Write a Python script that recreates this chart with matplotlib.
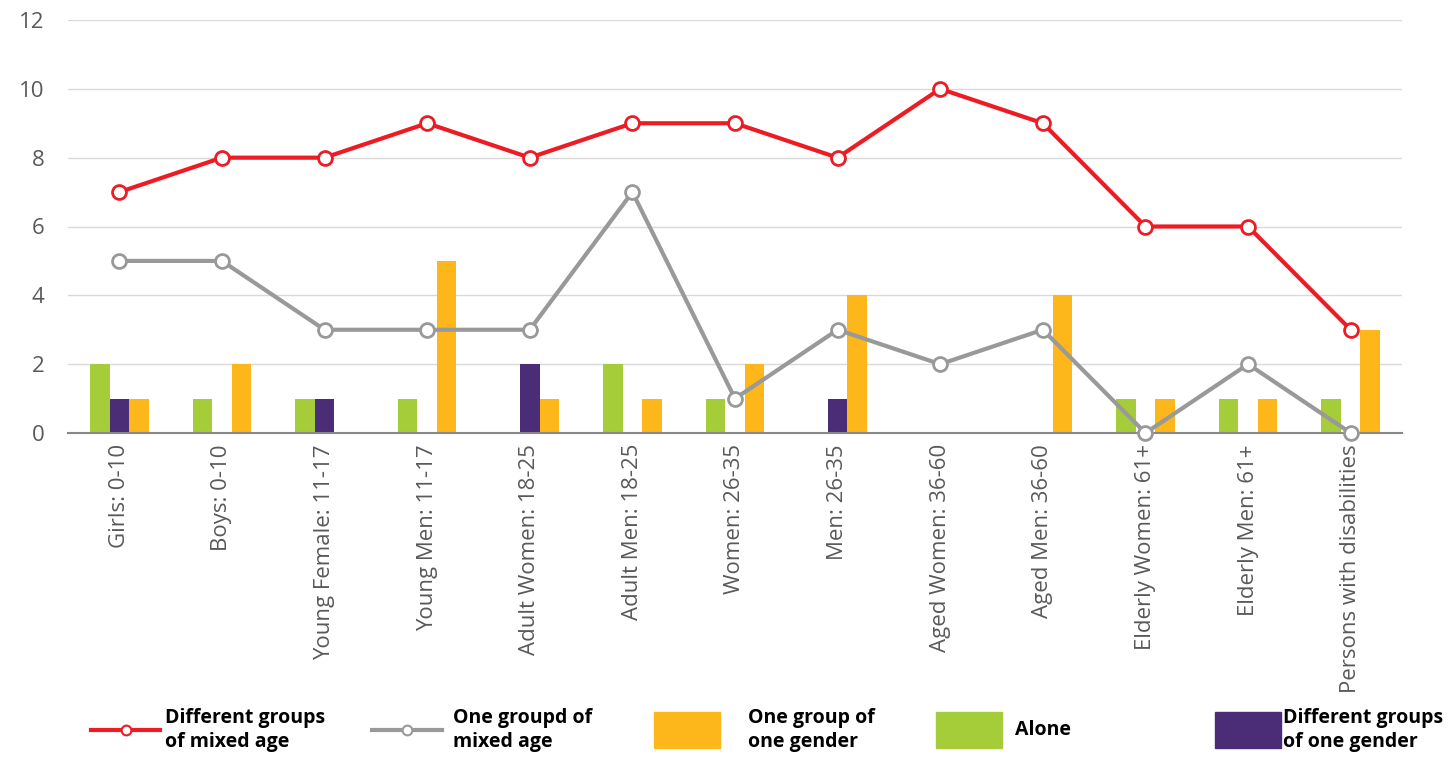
import matplotlib
matplotlib.use("Agg")
import matplotlib.pyplot as plt
import numpy as np
from matplotlib.lines import Line2D
from matplotlib.patches import Rectangle

categories = ["Girls: 0-10", "Boys: 0-10", "Young Female: 11-17", "Young Men: 11-17",
              "Adult Women: 18-25", "Adult Men: 18-25", "Women: 26-35", "Men: 26-35",
              "Aged Women: 36-60", "Aged Men: 36-60", "Elderly Women: 61+",
              "Elderly Men: 61+", "Persons with disabilities"]
mixed_age_groups = [7, 8, 8, 9, 8, 9, 9, 8, 10, 9, 6, 6, 3]
one_mixed_group = [5, 5, 3, 3, 3, 7, 1, 3, 2, 3, 0, 2, 0]
alone = [2, 1, 1, 1, 0, 2, 1, 0, 0, 0, 1, 1, 1]
diff_one_gender = [1, 0, 1, 0, 2, 0, 0, 1, 0, 0, 0, 0, 0]
one_gender_group = [1, 2, 0, 5, 1, 1, 2, 4, 0, 4, 1, 1, 3]
yticks = [0, 2, 4, 6, 8, 10, 12]

RED = "#ED1C24"
GRAY = "#999999"
ORANGE = "#FDB71A"
GREEN = "#A5CD39"
PURPLE = "#4B2C77"
TXT = "#595959"

plt.rcParams['font.family'] = ['Open Sans', 'DejaVu Sans']

fig = plt.figure(figsize=(14.55, 7.59), dpi=100)
ax = fig.add_axes([68/1455, 1 - 433/759, (1402-68)/1455, (433-20)/759])

x = np.arange(len(categories))
w = 0.19
ax.bar(x - w, alone, w, color=GREEN, zorder=2)
ax.bar(x, diff_one_gender, w, color=PURPLE, zorder=2)
ax.bar(x + w, one_gender_group, w, color=ORANGE, zorder=2)

ax.plot(x, one_mixed_group, color=GRAY, lw=3, marker='o', ms=10,
        mfc='white', mec=GRAY, mew=2, zorder=3, clip_on=False)
ax.plot(x, mixed_age_groups, color=RED, lw=3, marker='o', ms=10,
        mfc='white', mec=RED, mew=2, zorder=4, clip_on=False)

ax.set_xlim(-0.5, len(categories) - 0.5)
ax.set_ylim(0, 12)
ax.set_yticks(yticks)
ax.set_yticklabels([str(v) for v in yticks], fontsize=16, color=TXT)
ax.set_xticks(x)
ax.set_xticklabels(categories, rotation=90, fontsize=16, color=TXT, va='top')
ax.tick_params(length=0)
ax.tick_params(axis='x', pad=8)
ax.tick_params(axis='y', pad=17)
ax.grid(axis='y', color='#d9d9d9', lw=1, zorder=0)
ax.set_axisbelow(True)
for s in ['top', 'right', 'left']:
    ax.spines[s].set_visible(False)
ax.spines['bottom'].set_color('#888888')
ax.spines['bottom'].set_linewidth(1.5)
ax.spines['bottom'].set_zorder(2.5)

# legend (manual, figure coordinates)
H, W = 759, 1455
def fx(px): return px / W
def fy(py): return 1 - py / H
ly = 730
fs = 14
for (x0, x1, col, tx, label) in [(91, 160, RED, 165, "Different groups\nof mixed age"),
                                  (372, 442, GRAY, 453, "One groupd of\nmixed age")]:
    fig.add_artist(Line2D([fx(x0), fx(x1)], [fy(ly), fy(ly)], color=col, lw=3,
                          transform=fig.transFigure))
    fig.add_artist(Line2D([fx((x0 + x1) / 2)], [fy(ly)], marker='o', ms=7, mfc='white',
                          mec=col, mew=1.5, transform=fig.transFigure))
    fig.text(fx(tx), fy(ly), label, fontsize=fs, fontweight='bold', color='black',
             va='center', ha='left', linespacing=1.2)
for (x0, x1, col, tx, label) in [(654, 720, ORANGE, 748, "One group of\none gender"),
                                  (936, 1002, GREEN, 1015, "Alone"),
                                  (1215, 1281, PURPLE, 1283, "Different groups\nof one gender")]:
    fig.add_artist(Rectangle((fx(x0), fy(748)), fx(x1 - x0), (748 - 712) / H, color=col,
                             transform=fig.transFigure))
    fig.text(fx(tx), fy(ly), label, fontsize=fs, fontweight='bold', color='black',
             va='center', ha='left', linespacing=1.2)

fig.savefig("out.png", dpi=100)
